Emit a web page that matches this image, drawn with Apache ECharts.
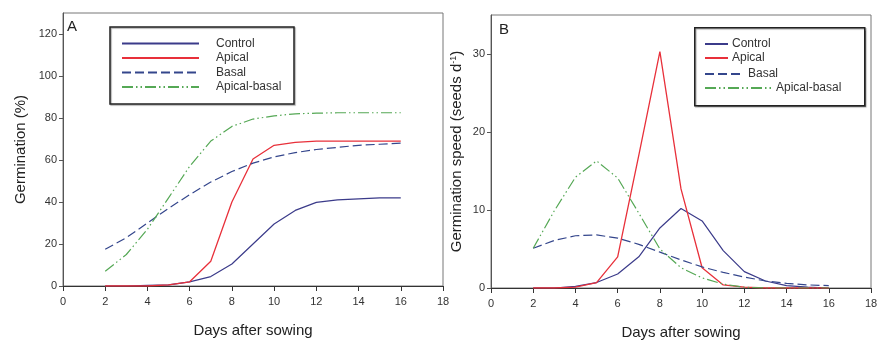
<!DOCTYPE html>
<html>
<head>
<meta charset="utf-8">
<script src="https://cdn.jsdelivr.net/npm/echarts@6/dist/echarts.min.js"></script>
<style>
  html, body { margin: 0; padding: 0; background: #fff; }
  #chart { width: 894px; height: 352px; }
</style>
</head>
<body>
<div id="chart"></div>
<script>
// days after sowing
const days = [2, 3, 4, 5, 6, 7, 8, 9, 10, 11, 12, 13, 14, 15, 16];
const seriesNames = ['Control', 'Apical', 'Basal', 'Apical-basal'];

// panel A: germination (%)
const controlPct     = [0, 0, 0.3, 0.5, 2, 4.5, 10.5, 20, 29.5, 36, 39.8, 41, 41.5, 42, 42];
const apicalPct      = [0, 0, 0, 0.5, 2, 11.8, 40, 60.5, 67, 68.4, 69, 69, 69, 69, 69];
const basalPct       = [17.5, 23, 30, 37, 43.5, 49.5, 54.5, 58.5, 61.5, 63.5, 65, 66, 67, 67.5, 68];
const apBasalPct     = [7, 15, 27, 42, 57, 69, 76, 79.5, 81, 82, 82.3, 82.5, 82.5, 82.5, 82.5];

// panel B: germination speed (seeds d-1)
const controlSpeed   = [0, 0, 0.2, 0.7, 1.8, 4, 7.7, 10.2, 8.6, 4.8, 2.1, 0.9, 0.3, 0.1, 0];
const apicalSpeed    = [0, 0, 0.1, 0.7, 4, 17, 30.3, 12.7, 2.6, 0.4, 0.1, 0, 0, 0, 0];
const basalSpeed     = [5.1, 6.1, 6.7, 6.8, 6.4, 5.6, 4.6, 3.6, 2.7, 2.0, 1.4, 0.9, 0.6, 0.4, 0.3];
const apBasalSpeed   = [5.1, 9.9, 14.2, 16.3, 14.1, 9.6, 5, 2.6, 1.3, 0.5, 0.1, 0, 0, 0, 0];

// tick labels
const xTicks  = [0, 2, 4, 6, 8, 10, 12, 14, 16, 18];
const yTicksA = [0, 20, 40, 60, 80, 100, 120];
const yTicksB = [0, 10, 20, 30];

const FONT = '"Liberation Sans", Arial, sans-serif';
const TXT = '#333';

const styles = {
    'Control':      { color: '#3b3b8a', type: 'solid', width: 1.2 },
    'Apical':       { color: '#e8303a', type: 'solid', width: 1.3 },
    'Basal':        { color: '#34468c', type: [9, 4], width: 1.2 },
    'Apical-basal': { color: '#55a855', type: [11, 3, 1.5, 3, 1.5, 3], width: 1.2 }
};

function pairs(vals) {
    return days.map(function (d, i) { return [d, vals[i]]; });
}

function makeSeries(name, vals, idx) {
    const s = styles[name];
    return {
        name: name,
        type: 'line',
        xAxisIndex: idx,
        yAxisIndex: idx,
        symbol: 'none',
        silent: true,
        color: s.color,
        lineStyle: { color: s.color, type: s.type, width: s.width },
        data: pairs(vals)
    };
}

function xAxisOf(idx) {
    return {
        gridIndex: idx,
        type: 'value',
        min: 0, max: 18, interval: 2,
        name: 'Days after sowing',
        nameLocation: 'middle',
        nameGap: 37,
        nameTextStyle: { fontFamily: FONT, fontSize: 15, color: '#222' },
        axisLine: { show: true, onZero: false, lineStyle: { color: '#333', width: 1.2 } },
        axisTick: { show: true, length: 5, lineStyle: { color: '#333' }, customValues: xTicks },
        axisLabel: { fontFamily: FONT, fontSize: 11, color: TXT, margin: 10, customValues: xTicks },
        splitLine: { show: false }
    };
}

function yAxisOf(idx, max, ticks, title, gap) {
    return {
        gridIndex: idx,
        type: 'value',
        min: 0, max: max, interval: 10,
        name: title,
        nameLocation: 'middle',
        nameGap: gap,
        nameTextStyle: {
            fontFamily: FONT, fontSize: 15, color: '#222',
            rich: { sup: { fontFamily: FONT, fontSize: 9, color: '#222', verticalAlign: 'top', padding: [0, 0, 7, 0] } }
        },
        axisLine: { show: true, lineStyle: { color: '#555', width: 1 } },
        axisTick: { show: true, length: 4, lineStyle: { color: '#555' }, customValues: ticks },
        axisLabel: { fontFamily: FONT, fontSize: 11, color: TXT, margin: 6, customValues: ticks },
        splitLine: { show: false }
    };
}

const legendText = { fontFamily: FONT, fontSize: 12, color: TXT, lineHeight: 12 };

// legend of panel B: each entry has its own line length
const legendB = [
    { name: 'Control',      top: 38, width: 23 },
    { name: 'Apical',       top: 52, width: 23 },
    { name: 'Basal',        top: 68, width: 39 },
    { name: 'Apical-basal', top: 82, width: 67 }
].map(function (it) {
    return {
        left: 704, top: it.top, orient: 'vertical', padding: 0,
        selectedMode: false, itemWidth: it.width, itemHeight: 12, itemGap: 2,
        itemStyle: { opacity: 0 },
        textStyle: Object.assign({}, legendText, { padding: [0, 0, 0, -1] }),
        data: [it.name]
    };
});

const chart = echarts.init(document.getElementById('chart'), null, { renderer: 'canvas' });

chart.setOption({
    backgroundColor: '#fff',
    animation: false,
    grid: [
        { left: 63, right: 451, top: 13, bottom: 66, show: true, borderColor: '#777', borderWidth: 1 },
        { left: 491, right: 23, top: 15, bottom: 64, show: true, borderColor: '#777', borderWidth: 1 }
    ],
    xAxis: [xAxisOf(0), xAxisOf(1)],
    yAxis: [
        yAxisOf(0, 130, yTicksA, 'Germination (%)', 35),
        yAxisOf(1, 35, yTicksB, 'Germination speed (seeds d{sup|-1})', 26)
    ],
    legend: [{
        left: 110, top: 27, orient: 'vertical',
        padding: [10.5, 8, 11, 11],
        borderColor: '#222', borderWidth: 1.5,
        shadowColor: 'rgba(0,0,0,0.35)', shadowOffsetX: 1, shadowOffsetY: 1, shadowBlur: 1,
        selectedMode: false,
        itemWidth: 77, itemHeight: 12, itemGap: 2.5,
        itemStyle: { opacity: 0 },
        textStyle: Object.assign({}, legendText, { padding: [0, 0, 0, 12], width: 70 }),
        data: seriesNames
    }].concat(legendB),
    graphic: [
        {
            type: 'rect', left: 694, top: 27, z: 0,
            shape: { width: 170, height: 78 },
            style: { fill: '#fff', stroke: '#222', lineWidth: 1.5, shadowColor: 'rgba(0,0,0,0.35)', shadowOffsetX: 1, shadowOffsetY: 1, shadowBlur: 1 }
        },
        { type: 'text', left: 67, top: 19, style: { text: 'A', font: '15px ' + FONT, fill: '#222' } },
        { type: 'text', left: 499, top: 22, style: { text: 'B', font: '15px ' + FONT, fill: '#222' } }
    ],
    series: [
        makeSeries('Control', controlPct, 0),
        makeSeries('Apical', apicalPct, 0),
        makeSeries('Basal', basalPct, 0),
        makeSeries('Apical-basal', apBasalPct, 0),
        makeSeries('Control', controlSpeed, 1),
        makeSeries('Apical', apicalSpeed, 1),
        makeSeries('Basal', basalSpeed, 1),
        makeSeries('Apical-basal', apBasalSpeed, 1)
    ]
});

window.onresize = chart.resize;
</script>
</body>
</html>
